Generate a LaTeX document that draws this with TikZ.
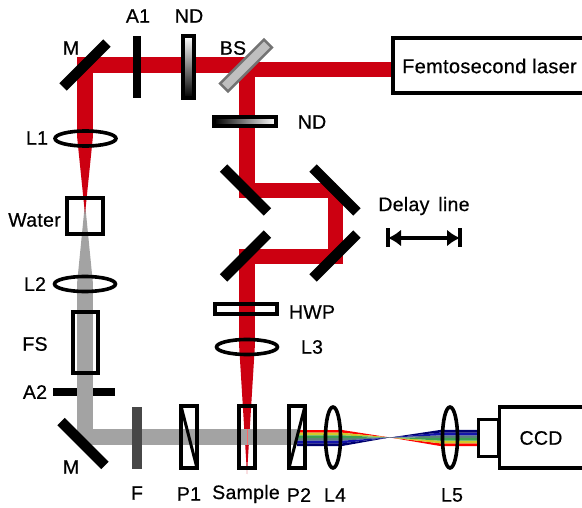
\documentclass[tikz,border=0pt]{standalone}
\usepackage{fontspec}
\setmainfont[FakeBold=0.6,LetterSpace=1.5]{Liberation Sans}
\usepackage{tikz}
\usetikzlibrary{shapes,arrows,arrows.meta,positioning,calc}
\definecolor{beamred}{RGB}{204,0,17}
\definecolor{beamgray}{RGB}{163,163,163}
\definecolor{bandgreen}{RGB}{60,160,80}
\definecolor{bandteal}{RGB}{90,130,120}
\definecolor{bandblue}{RGB}{20,20,170}
\definecolor{bandnavy}{RGB}{0,0,110}
\begin{document}
\begin{tikzpicture}[x=1pt,y=-1pt]
\tikzstyle{mirror}=[fill=black,draw=none,minimum width=62pt,minimum height=10.5pt,inner sep=0pt,outer sep=0pt]
\tikzstyle{plate}=[draw,line width=3.8pt,inner sep=0pt,outer sep=0pt]
\tikzstyle{lensh}=[draw,ellipse,line width=3.6pt,minimum width=61pt,minimum height=15pt,inner sep=0pt,outer sep=0pt]
\tikzstyle{lensv}=[draw,ellipse,line width=3.6pt,minimum width=15pt,minimum height=61pt,inner sep=0pt,outer sep=0pt]
\tikzstyle{lbl}=[inner sep=0pt,font=\fontsize{19.5}{20}\selectfont]
\tikzstyle{redbeam}=[line width=15.5pt,beamred]
\tikzstyle{graybeam}=[line width=16pt,beamgray]
\useasboundingbox (0,0) rectangle (582,508);

% beams first
\coordinate (mtop) at (85,65);
\coordinate (bs) at (247,65);
\coordinate (las) at (392,69.5);
\coordinate (dtl) at (247,190.5);
\coordinate (dtr) at (335.5,190.5);
\coordinate (dbr) at (335.5,256.5);
\coordinate (dbl) at (247,256.5);
\coordinate (lthree) at (247,347);
\coordinate (lone) at (85,138);
\coordinate (mbot) at (85,437);
\coordinate (ptwo) at (297,437);
\coordinate (fleft) at (85,214);
\coordinate (ltwo) at (85,284);
\coordinate (focus) at (390,437.5);

\draw [redbeam] (bs) -- (mtop) -- (lone);
\draw [redbeam] (las) -- (240,69.5);
\draw [redbeam] (247,69) -- (dtl) -- (dtr);
\draw [redbeam] (dtr) -- (dbr) -- (dbl) -- (lthree);
\fill [beamgray] (85,203) -- (93,284) -- (77,284) -- cycle;
\fill [beamred] (77.2,138) -- (92.8,138) -- (fleft) -- cycle;
\fill [beamred] (239.2,347) -- (254.8,347) -- (247,474) -- cycle;
\draw [graybeam] (ltwo) -- (mbot) -- (ptwo);
\draw [red!60,line width=1pt] (247,429) -- (247,445);

% spectrum
\foreach \c/\i in {red/0,yellow!80!black/1,bandgreen/2,bandteal/3,bandblue/4,bandnavy/5}
{
	\fill [\c] (297,{430+\i*2.67}) -- (342,{430+\i*2.67}) -- (focus) -- (342,{430+(\i+1)*2.67}) -- (297,{430+(\i+1)*2.67}) -- cycle;
	\fill [\c] (477,{446-\i*2.67}) -- (440,{446-\i*2.67}) -- (focus) -- (440,{446-(\i+1)*2.67}) -- (477,{446-(\i+1)*2.67}) -- cycle;
}

% optics
\node (M1) at (85,65) [mirror,rotate=45] {};
\node (A1) at (137,67) [fill=black,minimum width=8pt,minimum height=62pt,inner sep=0pt] {};
\node (ND1) at (188.5,67) [plate,top color=white,bottom color=black,minimum width=11pt,minimum height=62pt] {};
\node (BS) at (246,65.5) [draw=black!55,fill=black!25,line width=2.5pt,rotate=45,minimum width=62pt,minimum height=11pt,inner sep=0pt] {};
\node (ND2) at (245,121.5) [plate,left color=black,right color=white,minimum width=62pt,minimum height=9pt] {};
\node (L1) at (85.5,138.5) [lensh] {};
\node (water) at (85,216) [plate,minimum width=36pt,minimum height=36pt] {};
\node (L2) at (85,284) [lensh] {};
\node (FS) at (85.5,342.5) [plate,minimum width=25pt,minimum height=61pt] {};
\node (A2l) at (65,392) [fill=black,minimum width=24pt,minimum height=8pt,inner sep=0pt] {};
\node (A2r) at (104,392) [fill=black,minimum width=22pt,minimum height=8pt,inner sep=0pt] {};
\node (M2) at (83,443.5) [mirror,rotate=-45] {};
\node (F) at (137,438) [fill=black!72,minimum width=10pt,minimum height=62pt,inner sep=0pt] {};
\node (P1) at (189,437) [plate,minimum width=16pt,minimum height=62pt] {};
\node (Sam) at (247,437) [plate,minimum width=16pt,minimum height=62pt] {};
\node (P2) at (297,437) [plate,minimum width=16pt,minimum height=62pt] {};
\draw [line width=3pt] (P1.north west) -- (P1.south east);
\draw [line width=3pt] (P2.south west) -- (P2.north east);
\node (L4) at (333,437.5) [lensv] {};
\node (L5) at (450,437.5) [lensv] {};
\node (CCDb) at (488.5,438) [plate,fill=white,minimum width=20pt,minimum height=37pt] {};
\node (CCD) at (545,437.5) [plate,fill=white,minimum width=91pt,minimum height=61pt] {};
\node (laser) at (490,65.5) [plate,line width=4.8pt,fill=white,minimum width=194pt,minimum height=55pt] {};
\node (M3) at (245.5,190) [mirror,rotate=-45] {};
\node (M4) at (335,190) [mirror,rotate=-45] {};
\node (M5) at (245.5,256) [mirror,rotate=45] {};
\node (M6) at (335,256) [mirror,rotate=45] {};
\node (HWP) at (246,309) [plate,minimum width=62pt,minimum height=10pt] {};
\node (L3) at (247,347) [lensh] {};

% delay arrow
\coordinate (dl) at (388,238);
\coordinate (dr) at (460,238);
\draw [{Latex[length=13pt,width=17pt]}-{Latex[length=13pt,width=17pt]},line width=3.2pt] (dl) -- (dr);
\draw [line width=4pt] ($(dl)+(0,-9.5)$) -- ($(dl)+(0,9.5)$);
\draw [line width=4pt] ($(dr)+(0,-9.5)$) -- ($(dr)+(0,9.5)$);

% labels
\node (tM1) at (71,48) [lbl] {M};
\node (tA1) at (138,16) [lbl] {A1};
\node (tND1) at (189,16) [lbl] {ND};
\node (tBS) at (233,48) [lbl] {BS};
\node (tND2) at (312,122) [lbl] {ND};
\node (tL1) at (37,138) [lbl] {L1};
\node (tW) at (34.5,220) [lbl] {Water};
\node (tL2) at (35,284) [lbl] {L2};
\node (tFS) at (35,344) [lbl] {FS};
\node (tA2) at (35,392) [lbl] {A2};
\node (tM2) at (71,467) [lbl] {M};
\node (tF) at (137,493) [lbl] {F};
\node (tP1) at (189,494) [lbl] {P1};
\node (tS) at (246,494) [lbl] {Sample};
\node (tP2) at (299,495) [lbl] {P2};
\node (tL4) at (335,495) [lbl] {L4};
\node (tL5) at (452,495) [lbl] {L5};
\node (tCCD) at (541,438) [lbl] {CCD};
\node (tlaser) at (489.5,66) [lbl,font=\fontsize{20}{21}\selectfont] {Femtosecond laser};
\node (tDelay) at (424,206) [lbl] {Delay\, line};
\node (tHWP) at (312,312) [lbl] {HWP};
\node (tL3) at (312,347) [lbl] {L3};
\end{tikzpicture}
\end{document}
